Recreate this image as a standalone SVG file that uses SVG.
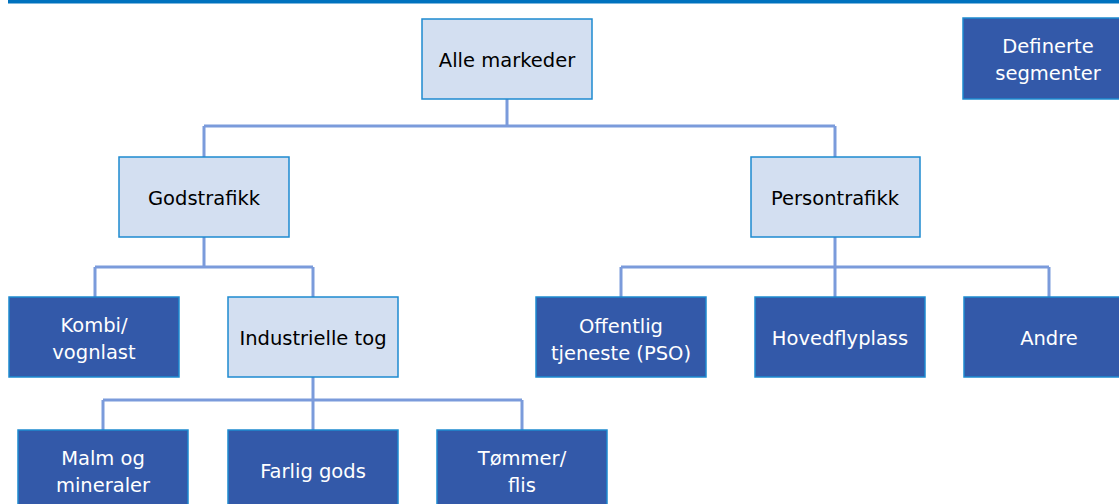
<svg xmlns="http://www.w3.org/2000/svg" width="1119" height="504" viewBox="0 0 1119 504">
<style>
.light{fill:#D3DFF1;stroke:#1E8AD0;stroke-width:1.5}
.dark{fill:#3359A9;stroke:#1E8AD0;stroke-width:1.5}
text{font-family:"DejaVu Sans","Liberation Sans",sans-serif;font-size:19.5px;text-anchor:middle}
.lt{fill:#000}
.dt{fill:#fff}
.conn{fill:none;stroke:#7B9BDB;stroke-width:3}
</style>
<rect x="8" y="0" width="1111" height="3.5" fill="#0072BE"/>
<g id="connectors">
<path class="conn" d="M507 99 V126 M204 126 H835 M204 126 V157 M835 126 V157"/>
<path class="conn" d="M204 237 V267 M95 267 H313 M95 267 V297 M313 267 V297"/>
<path class="conn" d="M835 237 V267 M621 267 H1049 M621 267 V297 M835 267 V297 M1049 267 V297"/>
<path class="conn" d="M313 377 V400 M103 400 H522 M103 400 V430 M313 400 V430 M522 400 V430"/>
</g>
<g id="alle"><rect class="light" x="422" y="19" width="170" height="80"/><text class="lt" x="507" y="67">Alle markeder</text></g>
<g id="definerte"><rect class="dark" x="963" y="18" width="170" height="81"/><text class="dt" x="1048" y="53">Definerte</text><text class="dt" x="1048" y="80">segmenter</text></g>
<g id="gods"><rect class="light" x="119" y="157" width="170" height="80"/><text class="lt" x="204" y="205">Godstrafikk</text></g>
<g id="person"><rect class="light" x="751" y="157" width="169" height="80"/><text class="lt" x="835" y="205">Persontrafikk</text></g>
<g id="kombi"><rect class="dark" x="9" y="297" width="170" height="80"/><text class="dt" x="94" y="332">Kombi/</text><text class="dt" x="94" y="359">vognlast</text></g>
<g id="industri"><rect class="light" x="228" y="297" width="170" height="80"/><text class="lt" x="313" y="345">Industrielle tog</text></g>
<g id="offentlig"><rect class="dark" x="536" y="297" width="170" height="80"/><text class="dt" x="621" y="333">Offentlig</text><text class="dt" x="621" y="360">tjeneste (PSO)</text></g>
<g id="hovedflyplass"><rect class="dark" x="755" y="297" width="170" height="80"/><text class="dt" x="840" y="345">Hovedflyplass</text></g>
<g id="andre"><rect class="dark" x="964" y="297" width="170" height="80"/><text class="dt" x="1049" y="345">Andre</text></g>
<g id="malm"><rect class="dark" x="18" y="430" width="170" height="80"/><text class="dt" x="103" y="465">Malm og</text><text class="dt" x="103" y="492">mineraler</text></g>
<g id="farlig"><rect class="dark" x="228" y="430" width="170" height="80"/><text class="dt" x="313" y="478">Farlig gods</text></g>
<g id="tommer"><rect class="dark" x="437" y="430" width="170" height="80"/><text class="dt" x="522" y="465">Tømmer/</text><text class="dt" x="522" y="492">flis</text></g>
</svg>
